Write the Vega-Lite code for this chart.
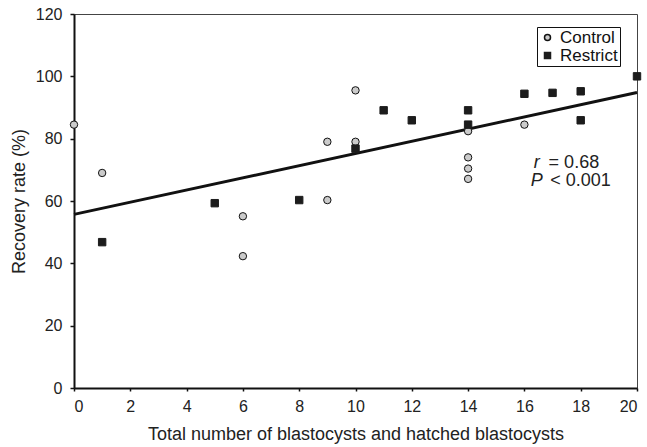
{
  "$schema": "https://vega.github.io/schema/vega-lite/v6.json",
  "width": 563,
  "height": 374,
  "autosize": {"type": "none"},
  "padding": {"left": 74, "top": 14, "right": 10, "bottom": 59},
  "config": {
    "view": {"stroke": "#444", "strokeWidth": 1},
    "font": "Liberation Sans",
    "axis": {
      "grid": false,
      "domainColor": "#111",
      "domainWidth": 2,
      "tickColor": "#111",
      "tickWidth": 1.5,
      "labelColor": "#222",
      "titleColor": "#222",
      "labelFontSize": 16,
      "titleFontSize": 18,
      "titleFontWeight": "normal"
    },
    "legend": {
      "strokeColor": "#111",
      "padding": 2,
      "labelFontSize": 17,
      "labelColor": "#111",
      "symbolSize": 36,
      "rowPadding": 0,
      "labelOffset": 4
    }
  },
  "datasets": {
    "points": [
      {"x": 0, "y": 84.5, "group": "Control"},
      {"x": 1, "y": 69.0, "group": "Control"},
      {"x": 6, "y": 55.1, "group": "Control"},
      {"x": 6, "y": 42.3, "group": "Control"},
      {"x": 9, "y": 79.0, "group": "Control"},
      {"x": 9, "y": 60.3, "group": "Control"},
      {"x": 10, "y": 95.5, "group": "Control"},
      {"x": 10, "y": 79.0, "group": "Control"},
      {"x": 14, "y": 82.4, "group": "Control"},
      {"x": 14, "y": 74.0, "group": "Control"},
      {"x": 14, "y": 70.4, "group": "Control"},
      {"x": 14, "y": 67.1, "group": "Control"},
      {"x": 16, "y": 84.5, "group": "Control"},
      {"x": 1, "y": 46.8, "group": "Restrict"},
      {"x": 5, "y": 59.3, "group": "Restrict"},
      {"x": 8, "y": 60.3, "group": "Restrict"},
      {"x": 10, "y": 76.8, "group": "Restrict"},
      {"x": 11, "y": 89.1, "group": "Restrict"},
      {"x": 12, "y": 85.9, "group": "Restrict"},
      {"x": 14, "y": 89.1, "group": "Restrict"},
      {"x": 14, "y": 84.5, "group": "Restrict"},
      {"x": 16, "y": 94.4, "group": "Restrict"},
      {"x": 17, "y": 94.7, "group": "Restrict"},
      {"x": 18, "y": 95.2, "group": "Restrict"},
      {"x": 18, "y": 85.9, "group": "Restrict"},
      {"x": 20, "y": 100.0, "group": "Restrict"}
    ],
    "fit": [{"x": 0, "y": 55.7}, {"x": 20, "y": 94.8}],
    "italic": [{"x": 16.33, "y": 72.2, "t": "r"}, {"x": 16.23, "y": 66.4, "t": "P"}],
    "plain": [{"x": 16.86, "y": 72.2, "t": "= 0.68"}, {"x": 16.92, "y": 66.4, "t": "< 0.001"}]
  },
  "encoding": {
    "x": {
      "field": "x", "type": "quantitative",
      "scale": {"domain": [0, 20], "nice": false},
      "axis": {"values": [0, 2, 4, 6, 8, 10, 12, 14, 16, 18, 20], "tickSize": 3, "labelPadding": 7, "titlePadding": 11, "title": "Total number of blastocysts and hatched blastocysts"}
    },
    "y": {
      "field": "y", "type": "quantitative",
      "scale": {"domain": [0, 120], "nice": false},
      "axis": {"values": [0, 20, 40, 60, 80, 100, 120], "tickSize": 4, "labelPadding": 8, "titlePadding": 7, "title": "Recovery rate (%)"}
    }
  },
  "layer": [
    {
      "data": {"name": "fit"},
      "mark": {"type": "line", "color": "#111", "strokeWidth": 3}
    },
    {
      "data": {"name": "points"},
      "mark": {"type": "point", "opacity": 1, "strokeWidth": 1, "size": 55},
      "encoding": {
        "shape": {"field": "group", "type": "nominal", "scale": {"domain": ["Control", "Restrict"], "range": ["circle", "square"]},
          "legend": {"title": null, "orient": "none", "legendX": 463, "legendY": 13}},
        "fill": {"field": "group", "type": "nominal", "scale": {"domain": ["Control", "Restrict"], "range": ["#cbcbcb", "#1c1c1c"]},
          "legend": {"title": null, "orient": "none", "legendX": 463, "legendY": 13}},
        "stroke": {"field": "group", "type": "nominal", "scale": {"domain": ["Control", "Restrict"], "range": ["#111", "#1c1c1c"]},
          "legend": {"title": null, "orient": "none", "legendX": 463, "legendY": 13}}
      }
    },
    {
      "data": {"name": "italic"},
      "mark": {"type": "text", "fontStyle": "italic", "fontSize": 18, "align": "left", "baseline": "middle", "color": "#222"},
      "encoding": {"text": {"field": "t"}}
    },
    {
      "data": {"name": "plain"},
      "mark": {"type": "text", "fontSize": 18, "align": "left", "baseline": "middle", "color": "#222"},
      "encoding": {"text": {"field": "t"}}
    }
  ]
}
